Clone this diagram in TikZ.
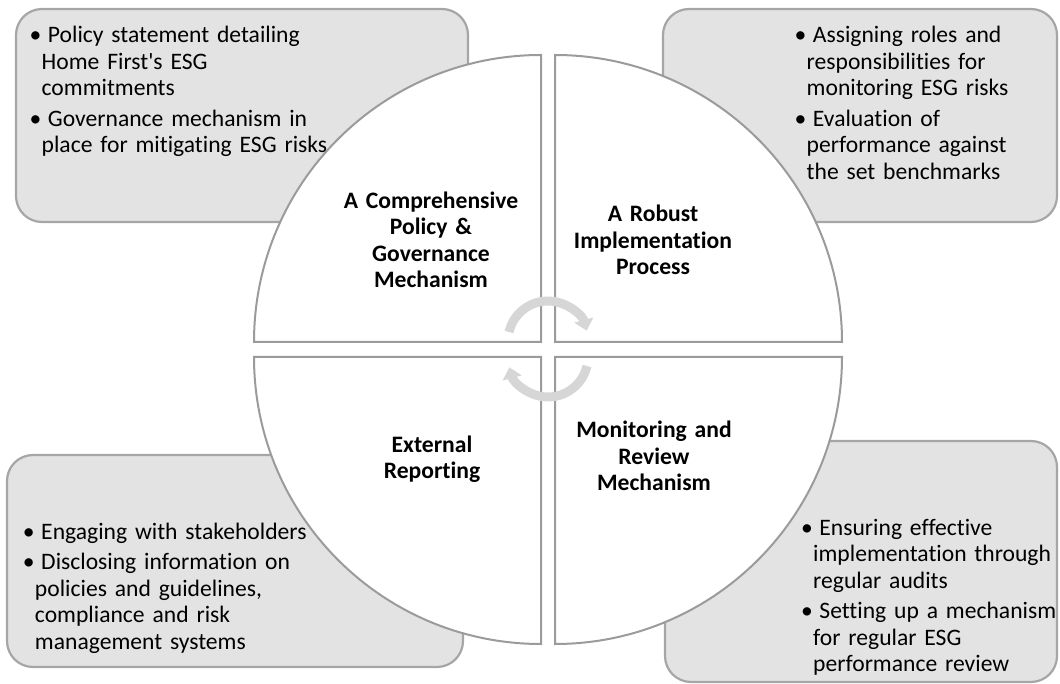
\documentclass[tikz,border=0pt]{standalone}
\usepackage{fontspec}
\setmainfont[Ligatures=NoCommon]{Carlito}
\usepackage{xcolor}
\usetikzlibrary{arrows.meta,positioning}

\definecolor{boxfill}{RGB}{227,227,227}
\definecolor{boxline}{RGB}{166,166,166}
\definecolor{quadline}{RGB}{155,155,155}
\definecolor{cyclegray}{RGB}{214,214,214}

\newcommand{\esgfont}{\fontsize{23.6}{26.5}\selectfont}
% one bullet point, continuation lines hang under the text
\newcommand{\esgpoint}[1]{\raggedright\parskip=4pt\hangindent=12pt\hangafter=1\textbullet\hspace{6.5pt}#1\par}

\begin{document}
\begin{tikzpicture}[x=1pt, y=-1pt]
\tikzset{
    mybox/.style={rectangle, rounded corners=26pt, draw=boxline, fill=boxfill, line width=2.2pt},
    mypoints/.style={anchor=base west, inner sep=0pt, text width=340pt, font=\esgfont},
    mylabel/.style={anchor=base, inner sep=0pt, text width=220pt, align=center, font=\esgfont\bfseries},
    myquad/.style={draw=quadline, fill=white, line width=2pt},
    myarrow/.style={-{Triangle[width=19pt,length=11pt]}, draw=cyclegray, line width=9pt}
}
\useasboundingbox (0,0) rectangle (1060,684);

% grey boxes in the corners, behind the circle
\node[mybox, minimum width=452pt, minimum height=213pt] (tlbox) at (242,115.5) {};
\node[mybox, minimum width=394pt, minimum height=213pt] (trbox) at (860,115.5) {};
\node[mybox, minimum width=456pt, minimum height=212pt] (blbox) at (235,561) {};
\node[mybox, minimum width=392pt, minimum height=241pt] (brbox) at (861,561.5) {};

% the circle, cut into four quarters
\draw[myquad] (541,342) -- ++(-287,0) arc[start angle=180, end angle=90, radius=287pt] -- cycle;
\draw[myquad] (555,342) -- ++(0,-287) arc[start angle=90, end angle=0, radius=287pt] -- cycle;
\draw[myquad] (555,357) -- ++(287,0) arc[start angle=0, end angle=-90, radius=287pt] -- cycle;
\draw[myquad] (541,357) -- ++(0,287) arc[start angle=-90, end angle=-180, radius=287pt] -- cycle;

% bullet points
\node[mypoints] (tltext) at (29.5,42.7) {\esgpoint{Policy statement detailing\newline Home First\textquotesingle s ESG\newline commitments}\esgpoint{Governance mechanism in\newline place for mitigating ESG risks}};
\node[mypoints] (trtext) at (794.5,42.7) {\esgpoint{Assigning roles and\newline responsibilities for\newline monitoring ESG risks}\esgpoint{Evaluation of\newline performance against\newline the set benchmarks}};
\node[mypoints] (bltext) at (22.8,539.3) {\esgpoint{Engaging with stakeholders}\esgpoint{Disclosing information on\newline policies and guidelines,\newline compliance and risk\newline management systems}};
\node[mypoints] (brtext) at (801,535.3) {\esgpoint{Ensuring effective\newline implementation through\newline regular audits}\esgpoint{Setting up a mechanism\newline for regular ESG\newline performance review}};

% quarter titles
\node[mylabel] (policy) at (431,208.3) {A Comprehensive\\ Policy \&\\ Governance\\ Mechanism};
\node[mylabel] (implement) at (653,221.7) {A Robust\\ Implementation\\ Process};
\node[mylabel] (reporting) at (432,452) {External\\ Reporting};
\node[mylabel] (monitor) at (654,437.7) {Monitoring and\\ Review\\ Mechanism};

% cycle arrows in the middle
\coordinate (hubtop) at (548,341);
\coordinate (hubbot) at (548,357);
\draw[myarrow] ([shift={(167:40pt)}]hubtop) arc[start angle=167, end angle=15, radius=40pt];
\draw[myarrow] ([shift={(-13:40pt)}]hubbot) arc[start angle=-13, end angle=-165, radius=40pt];

\end{tikzpicture}
\end{document}
